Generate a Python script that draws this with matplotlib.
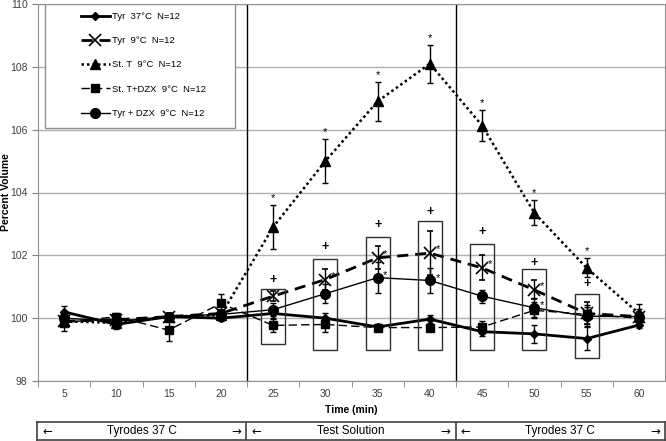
import matplotlib
matplotlib.use("Agg")
import matplotlib.pyplot as plt
from matplotlib.patches import Rectangle
from matplotlib.lines import Line2D

plt.rcParams["font.family"] = ["Liberation Sans", "DejaVu Sans"]

# time points (min)
times = [5, 10, 15, 20, 25, 30, 35, 40, 45, 50, 55, 60]

tyr37 = [100.2, 99.8, 100.05, 100.0, 100.15, 100.0, 99.72, 99.97, 99.57, 99.5, 99.35, 99.78]
tyr37_err = [0.2, 0.15, 0.1, 0.1, 0.15, 0.15, 0.1, 0.12, 0.15, 0.28, 0.37, 0.1]

tyr9 = [99.9, 99.95, 100.05, 100.15, 100.7, 101.23, 101.92, 102.07, 101.6, 100.9, 100.15, 100.05]
tyr9_err = [0.1, 0.1, 0.1, 0.1, 0.15, 0.33, 0.37, 0.7, 0.4, 0.3, 0.35, 0.15]

stt = [99.9, 99.85, 100.05, 100.1, 102.9, 105.0, 106.9, 108.1, 106.13, 103.35, 101.6, 100.15]
stt_err = [0.1, 0.1, 0.1, 0.15, 0.7, 0.7, 0.63, 0.6, 0.5, 0.4, 0.3, 0.3]

sttdzx = [99.85, 100.05, 99.62, 100.47, 99.77, 99.8, 99.7, 99.7, 99.72, 100.25, 100.12, 100.0]
sttdzx_err = [0.25, 0.1, 0.35, 0.3, 0.2, 0.25, 0.12, 0.12, 0.2, 0.25, 0.3, 0.2]

tyrdzx = [100.0, 99.9, 100.05, 100.12, 100.27, 100.78, 101.29, 101.2, 100.7, 100.33, 100.06, 100.05]
tyrdzx_err = [0.2, 0.15, 0.1, 0.15, 0.2, 0.3, 0.5, 0.4, 0.21, 0.3, 0.3, 0.25]

# boxes around 25..55 min
box_idx = [4, 5, 6, 7, 8, 9, 10]
box_top = [100.92, 101.87, 102.57, 103.1, 102.35, 101.55, 100.76]
box_bottom = [99.17, 98.98, 98.98, 98.98, 98.98, 98.98, 98.73]
plus_y = [101.2, 102.25, 102.95, 103.37, 102.75, 101.75, 101.08]

stt_star_idx = [4, 5, 6, 7, 8, 9, 10]
tyr9_star_idx = [5, 6, 7, 8, 9]
tyrdzx_star_idx = [6, 7, 9]

labels = [
    "Tyr  37°C  N=12",
    "Tyr  9°C  N=12",
    "St. T  9°C  N=12",
    "St. T+DZX  9°C  N=12",
    "Tyr + DZX  9°C  N=12",
]

phases = ["Tyrodes 37 C", "Test Solution", "Tyrodes 37 C"]

W, H = 666, 441
fig = plt.figure(figsize=(W / 100, H / 100), dpi=100)
ax = fig.add_axes([38 / W, 1 - 381 / H, 627 / W, 377 / H])

pos = list(range(1, len(times) + 1))

styles = [
    (tyr37, tyr37_err, dict(color="black", lw=2.0, ls="-", marker="D", ms=4)),
    (tyr9, tyr9_err, dict(color="black", lw=2.0, ls=(0, (4, 2.5)), marker="x", ms=8, mew=1.2)),
    (stt, stt_err, dict(color="black", lw=1.8, ls=(0, (1, 1.2)), marker="^", ms=7)),
    (sttdzx, sttdzx_err, dict(color="black", lw=1.0, ls=(0, (6, 3)), marker="s", ms=6)),
    (tyrdzx, tyrdzx_err, dict(color="black", lw=1.0, ls="-", marker="o", ms=7)),
]

handles = []
for (vals, errs, st), lab in zip(styles, labels):
    ax.errorbar(pos, vals, yerr=errs, ecolor="black", elinewidth=1, capsize=2.5,
                capthick=1, zorder=3, **st)
    handles.append(Line2D([], [], label=lab, **st))

for i, top, bot, py in zip(box_idx, box_top, box_bottom, plus_y):
    ax.add_patch(Rectangle((pos[i] - 0.23, bot), 0.46, top - bot, fill=False,
                           edgecolor="#303030", lw=1, zorder=4))
    ax.text(pos[i], py, "+", ha="center", va="center", fontsize=9, fontweight="bold")

for i in stt_star_idx:
    ax.text(pos[i], stt[i] + stt_err[i] + 0.22, "*", ha="center", va="center", fontsize=8)
for i in tyr9_star_idx:
    ax.text(pos[i] + 0.15, tyr9[i] + 0.12, "*", ha="center", va="center", fontsize=8)
for i in tyrdzx_star_idx:
    ax.text(pos[i] + 0.15, tyrdzx[i] + 0.08, "*", ha="center", va="center", fontsize=8)

for xv in (4.5, 8.5):
    ax.axvline(xv, color="black", lw=1, zorder=2)

ax.set_xlim(0.5, 12.5)
ax.set_ylim(98, 110)
ax.set_yticks(range(98, 111, 2))
ax.set_xticks(pos)
ax.set_xticklabels([str(t) for t in times])
ax.set_xticks([p + 0.5 for p in range(0, 12)], minor=True)
ax.tick_params(axis="x", which="major", length=0, pad=6, labelsize=7.5, labelcolor="#404040")
ax.tick_params(axis="x", which="minor", length=4, color="#808080")
ax.tick_params(axis="y", length=4, color="#808080", labelsize=7.5, labelcolor="#404040")
ax.yaxis.grid(True, color="#b0b0b0", lw=1)
ax.set_axisbelow(True)
for sp in ax.spines.values():
    sp.set_color("#909090")

ax.set_xlabel("Time (min)", fontsize=7.5, fontweight="bold", labelpad=4)
ax.set_ylabel("Percent Volume", fontsize=7.5, fontweight="bold")
ax.yaxis.set_label_coords(-27 / 627, 0.5)

# legend with a wider frame drawn by hand
ax.add_patch(Rectangle((7 / 627, 1 - 124 / 377), 190 / 627, 124 / 377,
                       transform=ax.transAxes, facecolor="white",
                       edgecolor="#909090", lw=1, zorder=5))
leg = ax.legend(handles=handles, loc="upper left", bbox_to_anchor=(40 / 627, 1 - 5 / 377),
                frameon=False, fontsize=6.8, handlelength=3.1, handletextpad=0.25,
                labelspacing=1.62, borderaxespad=0, borderpad=0.3)
leg.set_zorder(6)

# phase bar under the chart
bx = fig.add_axes([37 / W, 1 - 440 / H, 628 / W, 18 / H])
bx.set_xlim(0.5, 12.5)
bx.set_ylim(0, 1)
bx.set_xticks([])
bx.set_yticks([])
for sp in bx.spines.values():
    sp.set_color("#404040")
    sp.set_linewidth(1.2)
for xv in (4.5, 8.5):
    bx.axvline(xv, color="#404040", lw=1.2)
for k, name in enumerate(phases):
    x0 = 0.5 + 4 * k
    bx.text(x0 + 2, 0.5, name, ha="center", va="center", fontsize=8.5)
    bx.text(x0 + 0.1, 0.5, "←", ha="left", va="center", fontsize=8.5, family=["DejaVu Sans"])
    bx.text(x0 + 3.9, 0.5, "→", ha="right", va="center", fontsize=8.5, family=["DejaVu Sans"])

fig.savefig("out.png", dpi=100)
